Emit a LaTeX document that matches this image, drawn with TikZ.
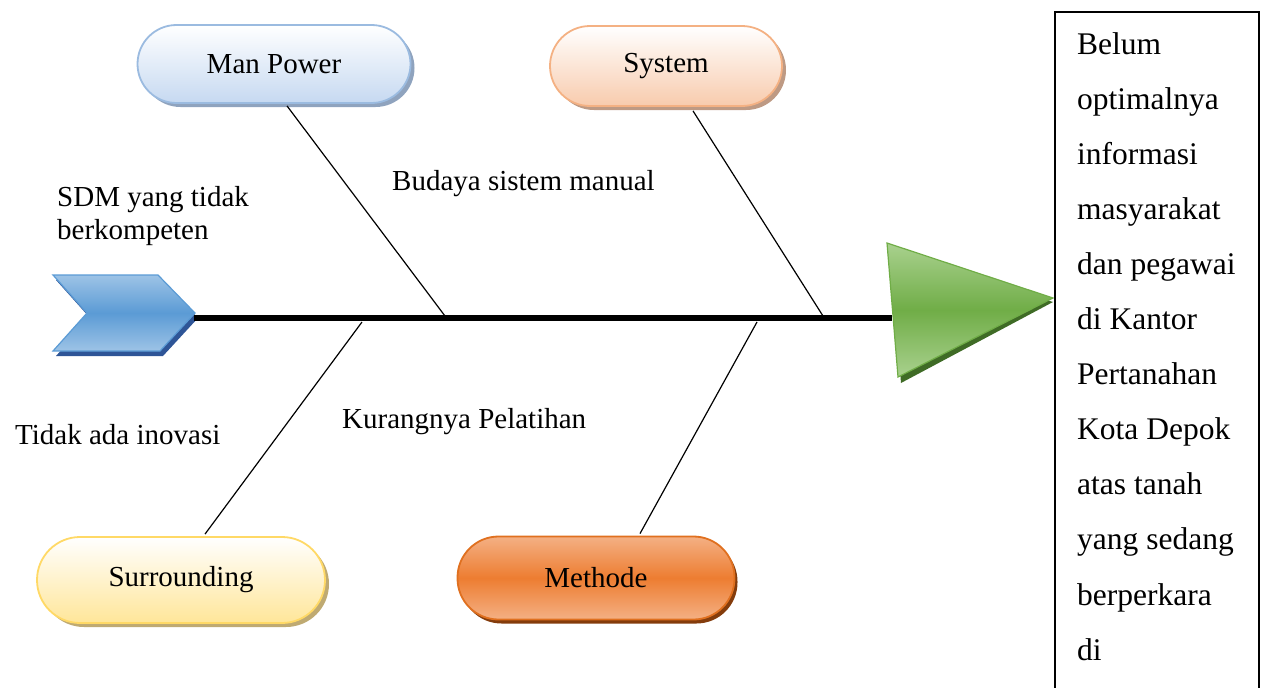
\documentclass[tikz,border=0pt]{standalone}
\usepackage{fontspec}
\setmainfont{Liberation Serif}
\usetikzlibrary{shadows,calc}
\definecolor{mpB}{HTML}{9BBBE0}
\definecolor{mpF}{HTML}{C6D9F1}
\definecolor{mpS}{HTML}{8FA3BE}
\definecolor{syB}{HTML}{F4B183}
\definecolor{syF}{HTML}{F8CBAD}
\definecolor{syS}{HTML}{BE9A84}
\definecolor{suB}{HTML}{FFD966}
\definecolor{suF}{HTML}{FFE699}
\definecolor{suS}{HTML}{BFAA72}
\definecolor{meB}{HTML}{E0701F}
\definecolor{meF}{HTML}{ED7D31}
\definecolor{meL}{HTML}{F4B084}
\definecolor{meS}{HTML}{843C0C}
\definecolor{chB}{HTML}{5B9BD5}
\definecolor{chL}{HTML}{9DC3E6}
\definecolor{chS}{HTML}{2E5597}
\definecolor{trB}{HTML}{70AD47}
\definecolor{trL}{HTML}{A9D18E}
\definecolor{trS}{HTML}{3F6B26}
\tikzset{
  pill/.style={rectangle, rounded corners=#1, line width=1.8pt, font=\fontsize{29}{33}\selectfont, text=black},
  lab/.style={font=\fontsize{29}{33}\selectfont, inner sep=0pt, anchor=base west},
  bone/.style={line width=1.2pt, black},
}
\begin{document}
\begin{tikzpicture}[x=1pt,y=-1pt]
\useasboundingbox (0,0) rectangle (1264,688);
% chevron (tail)
\fill[chS] ($(53,275)+(3,5)$) -- ++(105,0) -- ++(37,38) -- ++(-35,38) -- ++(-107,0) -- ++(34,-38) -- cycle;
\shade[top color=chL, bottom color=chL, middle color=chB, draw=chB, line width=1.2pt]
  (53,275) -- (158,275) -- (195,313) -- (160,351) -- (53,351) -- (87,313) -- cycle;
\coordinate (tail) at (194,318);
% triangle (head)
\fill[trS] ($(887,243)+(3,6)$) -- ($(1053,298)+(0,4)$) -- ($(898,377)+(3,6)$) -- cycle;
\shade[top color=trL, bottom color=trL, middle color=trB, draw=trB, line width=1.2pt]
  (887,243) -- (1053,298) -- (898,377) -- cycle;
\coordinate (head) at (892,318);
% spine
\draw[line width=6pt] (tail) -- (head);
% category pills
\node[pill=39pt, minimum width=273pt, minimum height=78pt, draw=mpB, top color=white, bottom color=mpF,
  drop shadow={shadow xshift=4pt, shadow yshift=-4pt, fill=mpS, opacity=1}] (mp) at (274,64) {Man Power};
\node[pill=40pt, minimum width=232pt, minimum height=80pt, draw=syB, top color=white, bottom color=syF,
  drop shadow={shadow xshift=4pt, shadow yshift=-4pt, fill=syS, opacity=1}] (sy) at (666,66) {System};
\node[pill=43pt, minimum width=288pt, minimum height=86pt, draw=suB, top color=white, bottom color=suF,
  drop shadow={shadow xshift=4pt, shadow yshift=-4pt, fill=suS, opacity=1}] (su) at (181,580) {Surrounding};
\node[pill=41pt, minimum width=277pt, minimum height=83pt, draw=meB, top color=meL, bottom color=meL, middle color=meF,
  drop shadow={shadow xshift=3pt, shadow yshift=-4pt, fill=meS, opacity=1}] (me) at (596,578) {Methode};
% bone joints on spine
\coordinate (jmp) at (445,316);
\coordinate (jsy) at (823,316);
\coordinate (jsu) at (362,322);
\coordinate (jme) at (757,322);
\draw[bone] ($(mp.south)+(13,2)$) -- (jmp);
\draw[bone] ($(sy.south)+(27,4)$) -- (jsy);
\draw[bone] ($(su.north)+(24,-2)$) -- (jsu);
\draw[bone] ($(me.north)+(44,-2)$) -- (jme);
% cause labels
\node[lab] (l1) at (57,206) {\parbox[t]{300pt}{\fontsize{29}{33}\selectfont SDM yang tidak\\berkompeten}};
\node[lab] (l2) at (392,190) {Budaya sistem manual};
\node[lab] (l3) at (15,444) {Tidak ada inovasi};
\node[lab] (l4) at (342,428) {Kurangnya Pelatihan};
% effect box
\draw[line width=1.5pt] (1055,700) -- (1055,12) -- (1259,12) -- (1259,700);
\node[inner sep=0pt, anchor=base west] (eff) at (1077,54) {\parbox[t]{180pt}{\raggedright\fontsize{31.5}{55.1}\selectfont
Belum\\optimalnya\\informasi\\masyarakat\\dan pegawai\\di Kantor\\Pertanahan\\Kota Depok\\atas tanah\\yang sedang\\berperkara\\di}};
\end{tikzpicture}
\end{document}
